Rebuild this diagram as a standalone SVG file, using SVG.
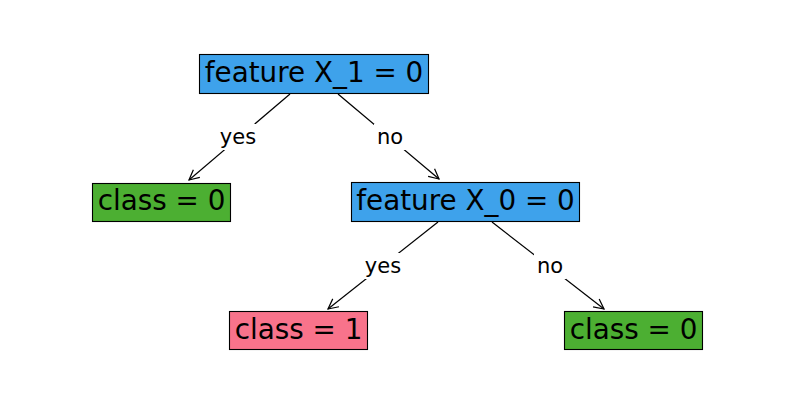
<svg xmlns="http://www.w3.org/2000/svg" width="794" height="405" viewBox="0 0 794 405">
<defs>
<style>
.box{stroke:#000;stroke-width:1.1}
.nt{font-family:"DejaVu Sans",sans-serif;font-size:27.8px;text-anchor:middle;fill:#000}
.et{font-family:"DejaVu Sans",sans-serif;font-size:21px;text-anchor:middle;fill:#000}
.edge{stroke:#000;stroke-width:1.2;fill:none;marker-end:url(#arr)}
.lb{fill:#fff}
</style>
<marker id="arr" viewBox="0 0 12 12" refX="11" refY="6" markerWidth="12" markerHeight="12" markerUnits="userSpaceOnUse" orient="auto">
<path d="M1,1 L11,6 L1,11" fill="none" stroke="#000" stroke-width="1.2"/>
</marker>
</defs>
<rect width="794" height="405" fill="#fff"/>
<g id="connectors">
<line class="edge" x1="290" y1="94" x2="189" y2="180"/>
<line class="edge" x1="338" y1="94" x2="439" y2="179"/>
<line class="edge" x1="438" y1="222" x2="328" y2="309"/>
<line class="edge" x1="492" y1="222" x2="604" y2="309"/>
<rect class="lb" x="217" y="124" width="42" height="26"/>
<rect class="lb" x="374" y="124" width="32" height="26"/>
<rect class="lb" x="362" y="253" width="42" height="26"/>
<rect class="lb" x="534" y="253" width="32" height="26"/>
<text class="et" x="238" y="144">yes</text>
<text class="et" x="390" y="144">no</text>
<text class="et" x="383" y="273">yes</text>
<text class="et" x="550" y="273">no</text>
</g>
<g id="root">
<rect class="box" x="199.5" y="54.5" width="229" height="39" fill="#3ea2eb"/>
<text class="nt" x="314" y="82">feature X_1 = 0</text>
</g>
<g id="leaf-left">
<rect class="box" x="92.5" y="183.5" width="138" height="38" fill="#4caf32"/>
<text class="nt" x="161.5" y="210">class = 0</text>
</g>
<g id="feature-x0">
<rect class="box" x="351.5" y="182.5" width="228" height="39" fill="#3ea2eb"/>
<text class="nt" x="465.5" y="210">feature X_0 = 0</text>
</g>
<g id="leaf-class1">
<rect class="box" x="229.5" y="311.5" width="138" height="38" fill="#f8738b"/>
<text class="nt" x="298.5" y="339">class = 1</text>
</g>
<g id="leaf-right">
<rect class="box" x="564.5" y="311.5" width="138" height="38" fill="#4caf32"/>
<text class="nt" x="633.5" y="339">class = 0</text>
</g>
</svg>
